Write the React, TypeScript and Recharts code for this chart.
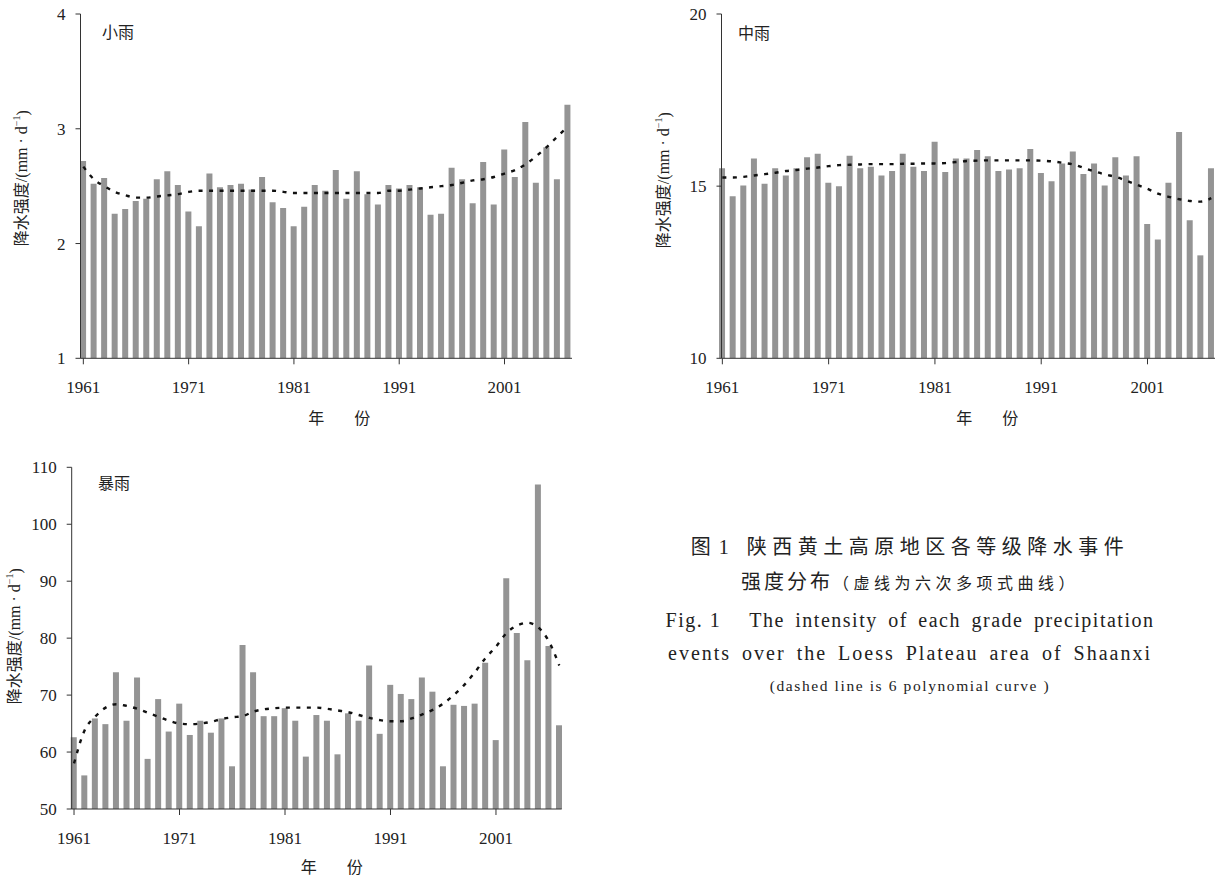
import React from 'react';
import { ComposedChart, Bar, Line, XAxis, YAxis } from 'recharts';

const FONT = "'Liberation Serif', 'Noto Sans CJK SC', serif";
const BAR_COLOR = '#949494';
const AXIS_COLOR = '#333';

// 年份 1961-2007
const years = [
    1961, 1962, 1963, 1964, 1965, 1966, 1967, 1968, 1969, 1970,
    1971, 1972, 1973, 1974, 1975, 1976, 1977, 1978, 1979, 1980,
    1981, 1982, 1983, 1984, 1985, 1986, 1987, 1988, 1989, 1990,
    1991, 1992, 1993, 1994, 1995, 1996, 1997, 1998, 1999, 2000,
    2001, 2002, 2003, 2004, 2005, 2006, 2007,
];
const yearTicks = [1961, 1971, 1981, 1991, 2001];

// 小雨
const lightRain = [
    2.72, 2.52, 2.57, 2.26, 2.30, 2.37, 2.39, 2.56, 2.63, 2.51,
    2.28, 2.15, 2.61, 2.49, 2.51, 2.52, 2.47, 2.58, 2.36, 2.31,
    2.15, 2.32, 2.51, 2.46, 2.64, 2.39, 2.63, 2.43, 2.34, 2.51,
    2.48, 2.51, 2.49, 2.25, 2.26, 2.66, 2.56, 2.35, 2.71, 2.34,
    2.82, 2.58, 3.06, 2.53, 2.84, 2.56, 3.21,
];
const lightTrend = [
    2.67, 2.56, 2.50, 2.45, 2.42, 2.40, 2.40, 2.41, 2.42, 2.43,
    2.45, 2.46, 2.46, 2.46, 2.46, 2.46, 2.46, 2.46, 2.46, 2.45,
    2.44, 2.44, 2.44, 2.44, 2.44, 2.44, 2.44, 2.44, 2.44, 2.46,
    2.46, 2.47, 2.48, 2.49, 2.50, 2.51, 2.53, 2.55, 2.56, 2.58,
    2.61, 2.64, 2.69, 2.76, 2.84, 2.93, 3.02,
];

// 中雨
const moderateRain = [
    15.52, 14.71, 15.02, 15.80, 15.07, 15.52, 15.31, 15.52, 15.84, 15.94,
    15.10, 15.00, 15.88, 15.52, 15.56, 15.31, 15.44, 15.94, 15.56, 15.44,
    16.29, 15.41, 15.80, 15.80, 16.05, 15.87, 15.44, 15.48, 15.52, 16.08,
    15.38, 15.14, 15.66, 16.01, 15.35, 15.66, 15.02, 15.84, 15.31, 15.87,
    13.90, 13.45, 15.10, 16.57, 14.01, 12.99, 15.52,
];
const moderateTrend = [
    15.25, 15.25, 15.27, 15.31, 15.35, 15.39, 15.44, 15.47, 15.51, 15.54,
    15.58, 15.61, 15.62, 15.63, 15.64, 15.64, 15.64, 15.65, 15.65, 15.66,
    15.66, 15.67, 15.70, 15.73, 15.74, 15.75, 15.75, 15.75, 15.75, 15.75,
    15.74, 15.72, 15.68, 15.63, 15.53, 15.43, 15.34, 15.27, 15.16, 15.04,
    14.92, 14.78, 14.69, 14.62, 14.57, 14.55, 14.65,
];

// 暴雨
const heavyRain = [
    62.6, 55.9, 65.9, 64.9, 74.0, 65.5, 73.1, 58.8, 69.3, 63.6,
    68.5, 63.0, 65.5, 63.4, 65.9, 57.5, 78.8, 74.0, 66.3, 66.3,
    67.7, 65.5, 59.2, 66.5, 65.5, 59.6, 66.8, 65.5, 75.2, 63.2,
    71.8, 70.2, 69.3, 73.1, 70.6, 57.5, 68.3, 68.1, 68.5, 75.7,
    62.1, 90.5, 80.9, 76.1, 107.0, 78.6, 64.7,
];
const heavyTrend = [
    58.0, 63.8, 66.2, 67.8, 68.4, 68.1, 67.6, 66.9, 66.2, 65.5,
    65.0, 64.9, 65.0, 65.3, 65.8, 66.1, 66.3, 67.1, 67.5, 67.7,
    67.8, 67.8, 67.8, 67.8, 67.6, 67.3, 67.0, 66.5, 66.0, 65.6,
    65.4, 65.4, 65.9, 66.6, 67.4, 68.5, 70.0, 71.8, 74.0, 76.5,
    78.5, 80.9, 82.2, 82.7, 81.9, 79.5, 75.2,
];

const buildData = (values: number[], trend: number[]) =>
    years.map((year, i) => ({ year, value: values[i], trend: trend[i] }));

const YTitle = ({ viewBox, shiftX = 0, shiftY = 0 }: any) => {
    if (!viewBox) return null;
    const x = viewBox.x + shiftX;
    const y = viewBox.y + viewBox.height / 2 + shiftY;
    return (
        <text
            x={x}
            y={y}
            transform={`rotate(-90 ${x} ${y})`}
            textAnchor="middle"
            dominantBaseline="central"
            fontSize={16}
            fill="#222"
            fontFamily={FONT}
        >
            降水强度/(mm · d
            <tspan fontSize={10} dy={-6}>−1</tspan>
            <tspan dy={6}>)</tspan>
        </text>
    );
};

const XTitle = ({ viewBox, shiftX = 0, gap = 60 }: any) => {
    if (!viewBox) return null;
    const x = viewBox.x + viewBox.width / 2 + shiftX;
    const y = viewBox.y + gap;
    return (
        <text
            x={x}
            y={y}
            textAnchor="middle"
            dominantBaseline="central"
            fontSize={16}
            fill="#222"
            fontFamily={FONT}
        >
            年<tspan dx={30}>份</tspan>
        </text>
    );
};

interface PanelProps {
    data: Array<{ year: number; value: number; trend: number }>;
    width: number;
    height: number;
    margin: { top: number; right: number; bottom: number; left: number };
    xHeight: number;
    xDomain: [number, number];
    yDomain: [number, number];
    yTicks: number[];
    yTitleDx: number;
    yTitleDy: number;
    xTitleDx: number;
    xTitleGap: number;
}

const Panel: React.FC<PanelProps> = ({
    data, width, height, margin, xHeight, xDomain, yDomain, yTicks,
    yTitleDx, yTitleDy, xTitleDx, xTitleGap,
}) => (
    <ComposedChart width={width} height={height} data={data} margin={margin}>
        <XAxis
            dataKey="year"
            type="number"
            domain={xDomain}
            ticks={yearTicks}
            interval={0}
            height={xHeight}
            tickSize={6}
            tickMargin={17}
            stroke={AXIS_COLOR}
            tick={{ fontSize: 17, fill: '#222', fontFamily: FONT }}
            label={<XTitle shiftX={xTitleDx} gap={xTitleGap} />}
        />
        <YAxis
            type="number"
            domain={yDomain}
            ticks={yTicks}
            width={60}
            tickSize={5}
            tickMargin={10}
            stroke={AXIS_COLOR}
            tick={{ fontSize: 17, fill: '#222', fontFamily: FONT }}
            label={<YTitle shiftX={yTitleDx} shiftY={yTitleDy} />}
        />
        <Bar dataKey="value" fill={BAR_COLOR} barSize={6} isAnimationActive={false} />
        <Line
            type="monotone"
            dataKey="trend"
            stroke="#111"
            strokeWidth={2.4}
            strokeDasharray="4 6.5"
            dot={false}
            activeDot={false}
            isAnimationActive={false}
        />
    </ComposedChart>
);

const panelTitle = (text: string, left: number, top: number) => (
    <div style={{
        position: 'absolute', left, top, fontSize: 16, lineHeight: '16px',
        fontFamily: FONT, color: '#222', whiteSpace: 'nowrap',
    }}>
        {text}
    </div>
);

const captionLine = (top: number, size: number, children: React.ReactNode, extra: React.CSSProperties = {}) => (
    <div style={{
        position: 'absolute', left: 610, width: 600, top: top - size / 2, textAlign: 'center',
        fontSize: size, lineHeight: `${size}px`, fontFamily: FONT, color: '#222',
        whiteSpace: 'nowrap', ...extra,
    }}>
        {children}
    </div>
);

export default function App() {
    return (
        <div style={{ position: 'absolute', left: 0, top: 0, width: 1218, height: 881, background: '#fff' }}>
            <div style={{ position: 'absolute', left: 0, top: 0 }}>
                <Panel
                    data={buildData(lightRain, lightTrend)}
                    width={590}
                    height={440}
                    margin={{ top: 14, right: 18, bottom: 0, left: 20.5 }}
                    xHeight={81.7}
                    xDomain={[1960.73, 2007.41]}
                    yDomain={[1, 4]}
                    yTicks={[1, 2, 3, 4]}
                    yTitleDx={1.5}
                    yTitleDy={-8}
                    xTitleDx={13}
                    xTitleGap={60}
                />
            </div>
            <div style={{ position: 'absolute', left: 640, top: 0 }}>
                <Panel
                    data={buildData(moderateRain, moderateTrend)}
                    width={578}
                    height={440}
                    margin={{ top: 14, right: 3, bottom: 0, left: 21.5 }}
                    xHeight={81.7}
                    xDomain={[1960.92, 2007.35]}
                    yDomain={[10, 20]}
                    yTicks={[10, 15, 20]}
                    yTitleDx={2.5}
                    yTitleDy={-6}
                    xTitleDx={19}
                    xTitleGap={60}
                />
            </div>
            <div style={{ position: 'absolute', left: 0, top: 440 }}>
                <Panel
                    data={buildData(heavyRain, heavyTrend)}
                    width={590}
                    height={441}
                    margin={{ top: 27.3, right: 28.3, bottom: 0, left: 11.7 }}
                    xHeight={72}
                    xDomain={[1960.78, 2007.23]}
                    yDomain={[50, 110]}
                    yTicks={[50, 60, 70, 80, 90, 100, 110]}
                    yTitleDx={3.3}
                    yTitleDy={-2}
                    xTitleDx={15}
                    xTitleGap={58}
                />
            </div>

            {panelTitle('小雨', 102, 25)}
            {panelTitle('中雨', 738, 26)}
            {panelTitle('暴雨', 98, 476)}

            {captionLine(547, 20, (
                <>
                    <span>图</span>
                    <span style={{ marginLeft: 8 }}>1</span>
                    <span style={{ marginLeft: 18, letterSpacing: 5.5 }}>陕西黄土高原地区各等级降水事件</span>
                </>
            ))}
            {captionLine(582, 20, (
                <>
                    <span style={{ letterSpacing: 3 }}>强度分布</span>
                    <span style={{ fontSize: 16, letterSpacing: 4.5 }}>（虚线为六次多项式曲线）</span>
                </>
            ))}
            {captionLine(620, 20, (
                <>
                    <span style={{ letterSpacing: 1.5 }}>Fig. 1</span>
                    <span style={{ marginLeft: 28, letterSpacing: 1.5, wordSpacing: 4 }}>The intensity of each grade precipitation</span>
                </>
            ))}
            {captionLine(653, 20, 'events over the Loess Plateau area of Shaanxi', { letterSpacing: 2, wordSpacing: 4 })}
            {captionLine(686, 15.5, '(dashed line is 6 polynomial curve )', { letterSpacing: 1.6 })}
        </div>
    );
}
